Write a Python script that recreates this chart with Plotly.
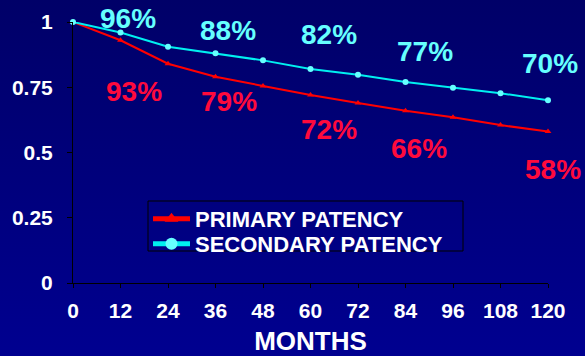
import base64
import plotly.graph_objects as go

# Patency over follow-up (fraction of patients)
months = [0, 12, 24, 36, 48, 60, 72, 84, 96, 108, 120]
primary = [1.0, 0.93, 0.84, 0.79, 0.755, 0.72, 0.69, 0.66, 0.635, 0.605, 0.58]
secondary = [1.0, 0.96, 0.905, 0.88, 0.853, 0.82, 0.798, 0.77, 0.748, 0.727, 0.70]
labelled_months = [12, 36, 60, 84, 120]
y_ticks = [0, 0.25, 0.5, 0.75, 1]
y_tick_text = ["0", "0.25", "0.5", "0.75", "1"]

FONT = "Liberation Sans, Arial, sans-serif"
RED_LINE = "#ff0000"
RED_TEXT = "#ff0a3c"
CYAN_LINE = "#00f0f0"
CYAN_TEXT = "#66ffff"

# label offsets (px) relative to the labelled points
sec_shift = {12: (7, 14), 36: (12, 23), 60: (18, 34), 84: (19, 31), 120: (2, 37)}
pri_shift = {12: (13, -51), 36: (13, -25), 60: (18, -34), 84: (13, -38), 120: (5, -38)}

W, H = 585, 356
L, R, T, B = 73, 37, 22, 73
pw, ph = W - L - R, H - T - B


def px_x(p):
    return (p - L) / pw


def px_y(p):
    return (H - B - p) / ph


fig = go.Figure()
fig.add_trace(go.Scatter(
    x=months, y=primary, mode="lines+markers", name="PRIMARY PATENCY",
    line=dict(color=RED_LINE, width=2),
    marker=dict(symbol="triangle-up", size=6, color=RED_LINE),
    cliponaxis=False, legend="legend",
))
fig.add_trace(go.Scatter(
    x=months, y=secondary, mode="lines+markers", name="SECONDARY PATENCY",
    line=dict(color=CYAN_LINE, width=2),
    marker=dict(symbol="circle", size=6, color=CYAN_TEXT),
    cliponaxis=False, legend="legend2",
))

annotations = []
for m in labelled_months:
    i = months.index(m)
    for vals, shifts, col in ((secondary, sec_shift, CYAN_TEXT), (primary, pri_shift, RED_TEXT)):
        dx, dy = shifts[m]
        annotations.append(dict(
            x=m, y=vals[i], xref="x", yref="y",
            text=f"{round(vals[i] * 100)}%", showarrow=False,
            xshift=dx, yshift=dy,
            font=dict(family=FONT, size=28, color=col, weight="bold"),
        ))

# navy vertical gradient backdrop
svg = (
    '<svg xmlns="http://www.w3.org/2000/svg" width="100" height="100" preserveAspectRatio="none">'
    '<defs><linearGradient id="g" x1="0" y1="0" x2="0" y2="1">'
    '<stop offset="0" stop-color="#000068"/><stop offset="1" stop-color="#000090"/>'
    '</linearGradient></defs><rect width="100" height="100" fill="url(#g)"/></svg>'
)
src = "data:image/svg+xml;base64," + base64.b64encode(svg.encode()).decode()

legend_style = dict(
    xanchor="left", yanchor="top",
    bgcolor="rgba(0,0,0,0)", borderwidth=0,
    font=dict(family=FONT, size=22, color="white", weight="bold"),
    itemsizing="constant", itemwidth=37,
)

fig.update_layout(
    width=W, height=H,
    margin=dict(l=L, r=R, t=T, b=B, autoexpand=False),
    paper_bgcolor="#00007a",
    plot_bgcolor="rgba(0,0,0,0)",
    font=dict(family=FONT, color="white", weight="bold"),
    images=[dict(
        source=src, xref="paper", yref="paper",
        x=-L / pw, y=1 + T / ph, sizex=W / pw, sizey=H / ph,
        xanchor="left", yanchor="top", sizing="stretch", layer="below",
    )],
    shapes=[dict(
        type="rect", xref="paper", yref="paper",
        x0=px_x(148), x1=px_x(463), y0=px_y(251), y1=px_y(201),
        line=dict(color="black", width=1), fillcolor="rgba(0,0,0,0)", layer="below",
    )],
    annotations=annotations,
    showlegend=True,
    legend=dict(x=px_x(148), y=px_y(198), **legend_style),
    legend2=dict(x=px_x(148), y=px_y(223), **legend_style),
    xaxis=dict(
        range=[0, 120], tickvals=months, ticktext=[str(m) for m in months],
        showgrid=False, zeroline=False, showline=True, linecolor="black", linewidth=1,
        ticks="outside", ticklen=4, tickcolor="black", ticklabelstandoff=5,
        automargin=False,
        tickfont=dict(family=FONT, size=21, color="white", weight="bold"),
        title=dict(text="MONTHS", standoff=12,
                   font=dict(family=FONT, size=26, color="white", weight="bold")),
    ),
    yaxis=dict(
        range=[0, 1], tickvals=y_ticks, ticktext=y_tick_text,
        showgrid=False, zeroline=False, showline=True, linecolor="black", linewidth=1,
        ticks="outside", ticklen=5, tickcolor="black", ticklabelstandoff=10,
        automargin=False,
        tickfont=dict(family=FONT, size=21, color="white", weight="bold"),
    ),
)

fig.write_html("out.html")
